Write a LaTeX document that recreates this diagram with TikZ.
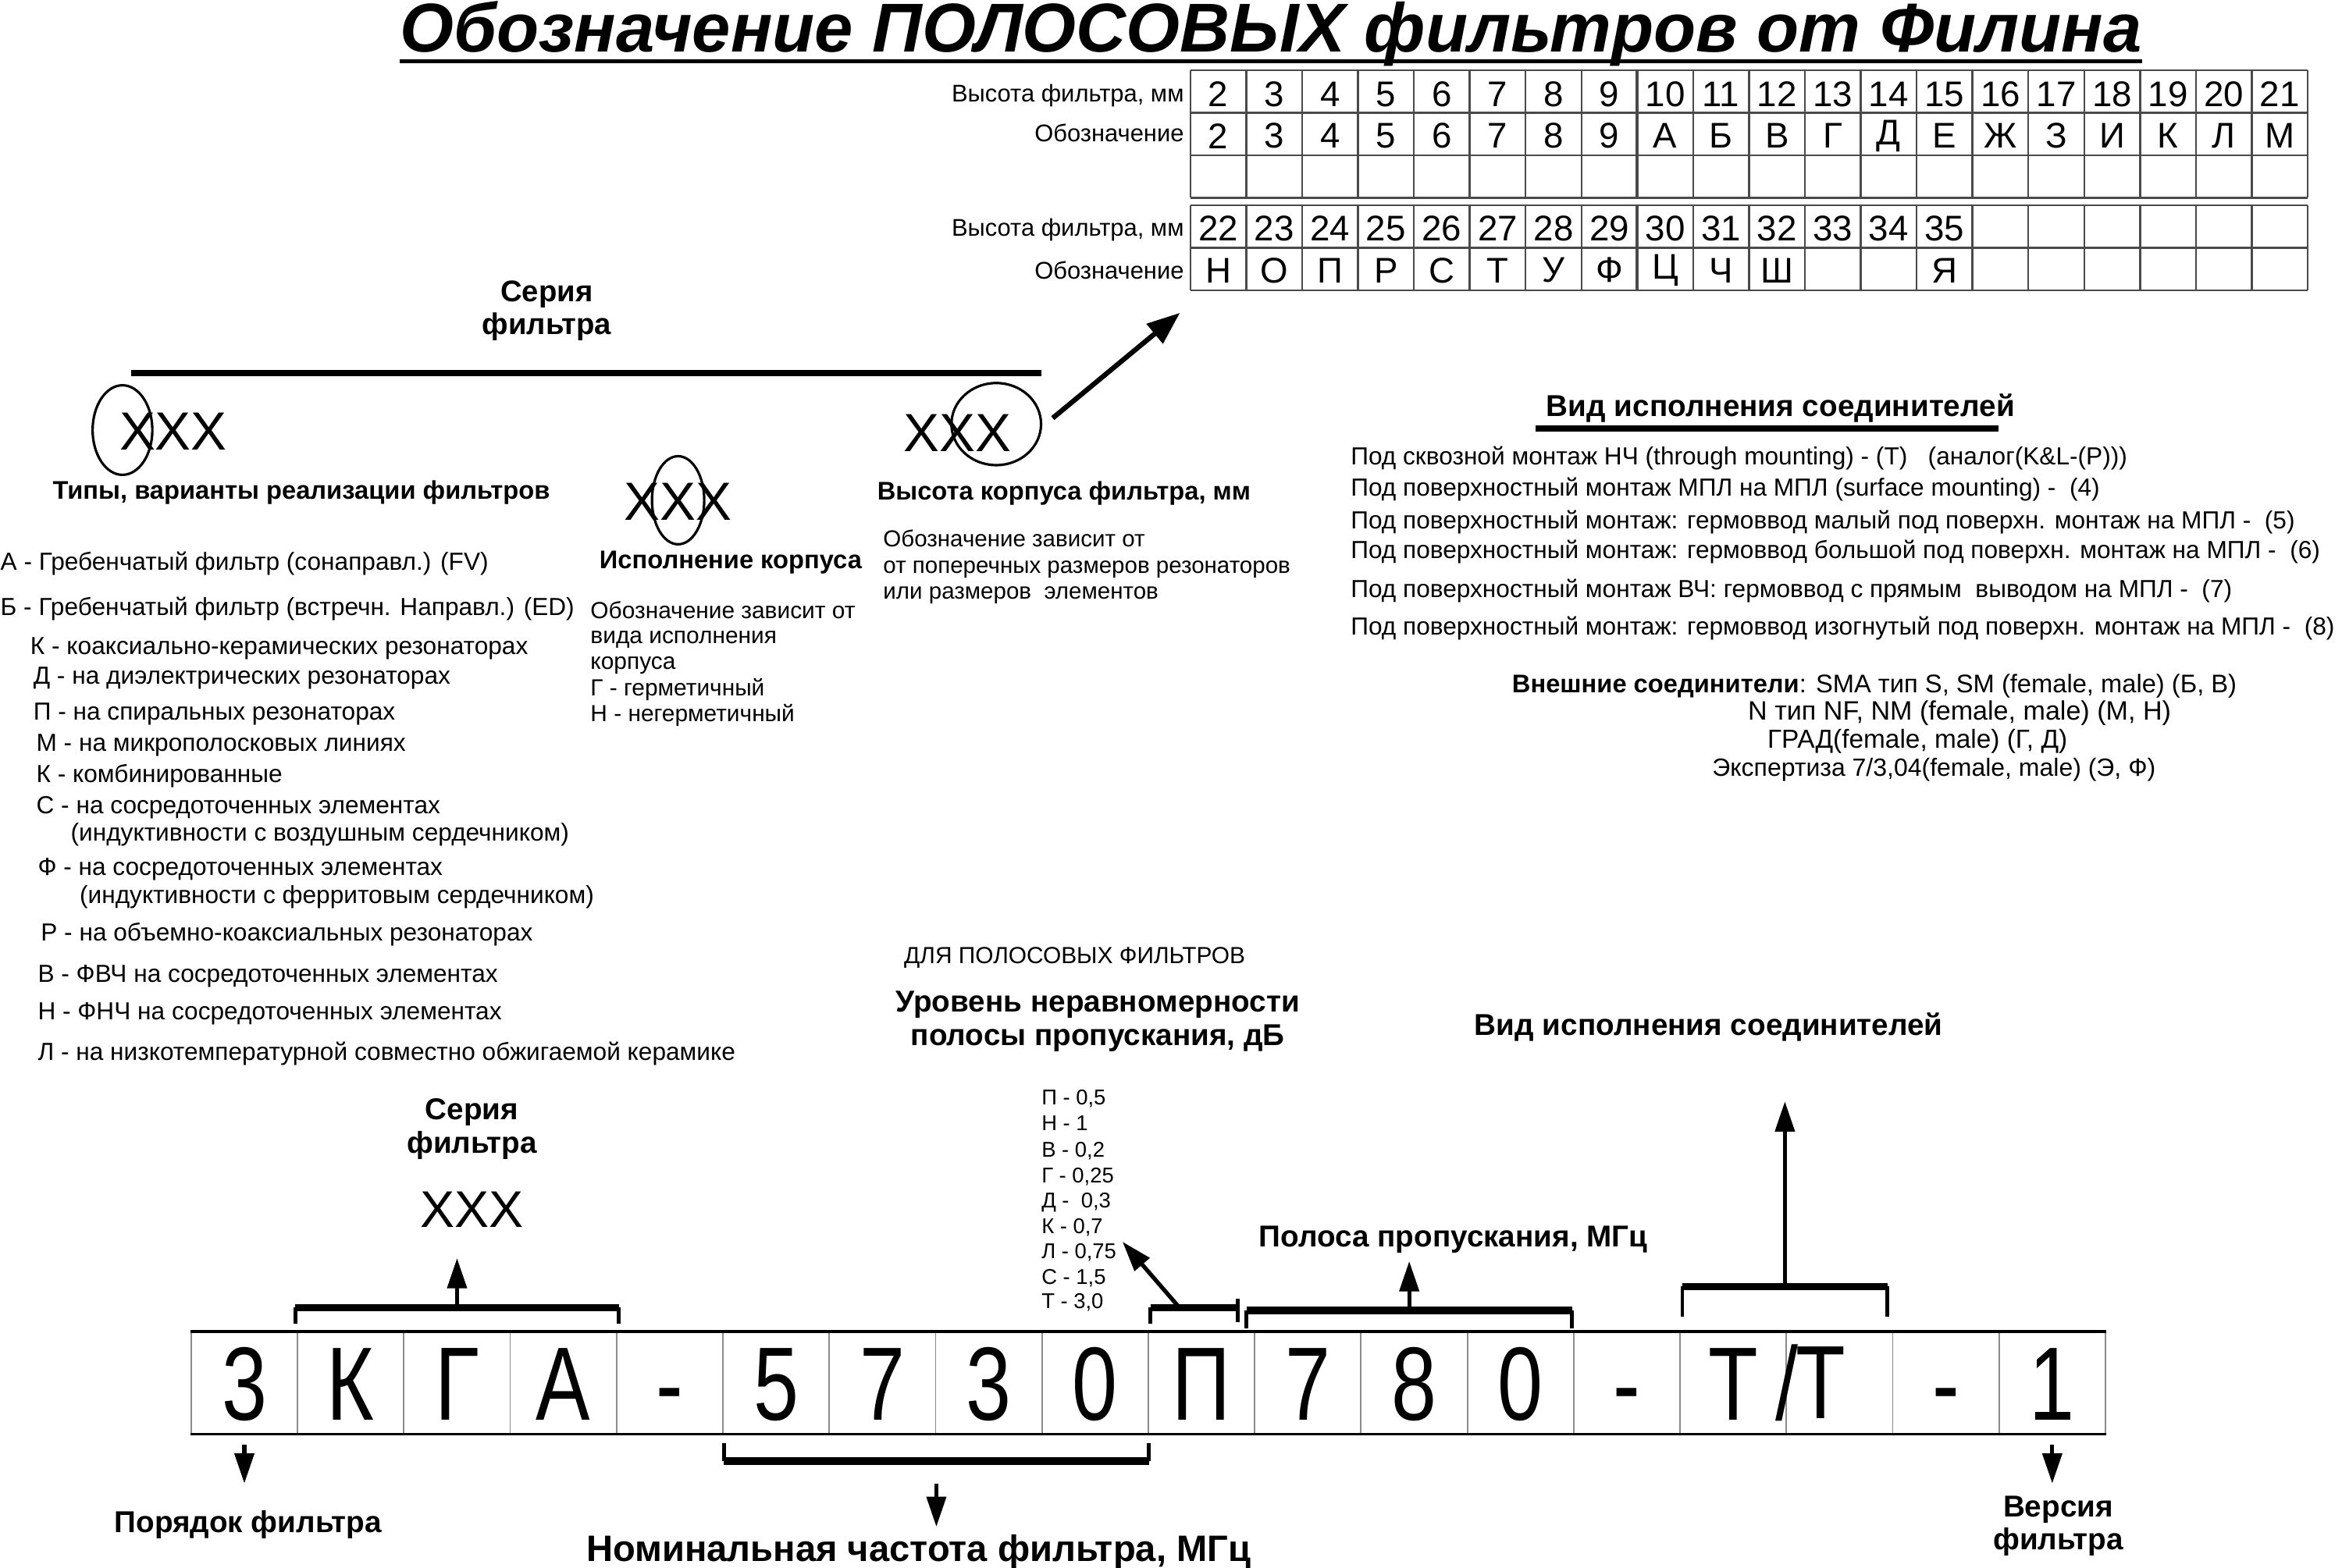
\documentclass[tikz,border=0pt]{standalone}
\usepackage{fontspec}
\setmainfont{Liberation Sans}
\newfontfamily\narrowfont[FakeStretch=0.78]{Liberation Sans}
\usepackage{tikz}
\usetikzlibrary{arrows.meta,positioning,calc,shapes.geometric}
\definecolor{gridline}{HTML}{4A4A4A}
\definecolor{celline}{HTML}{8C8C8C}
\newcommand{\fsz}[1]{\fontsize{#1}{#1}\selectfont}
\def\pxu{0.5443pt}

\begin{document}
\begin{tikzpicture}[
  x=0.019133cm, y=-0.019133cm,
  txt/.style={anchor=base west, inner sep=0pt, font=\fsz{9}},
  lbl/.style={anchor=base east, inner sep=0pt, font=\fsz{8.8}},
  tcell/.style={inner sep=0pt, font=\fsz{13}},
  hd/.style={anchor=base west, inner sep=0pt, font=\bfseries\fsz{9.3}},
  bighd/.style={inner sep=0pt, align=center, font=\bfseries\fontsize{11}{12}\selectfont},
  xxx/.style={inner sep=0pt, font=\fsz{19.6}},
  oval/.style={draw, ellipse, line width=0.9pt, inner sep=0pt},
  cell/.style={draw=celline, line width=0.5pt, minimum width=71.2*\pxu, minimum height=68*\pxu, inner sep=0pt,
    text height=50*\pxu, text depth=0pt, font=\narrowfont\fsz{38}},
  tgrid/.style={draw=gridline, line width=0.7pt},
  arr/.style={-{Triangle[length=11pt,width=7pt]}, line width=1.5pt},
  bar/.style={line width=2.6pt},
  tick/.style={line width=1.4pt}
]
  \fill[white] (0,0) rectangle (1568,1050);
  \useasboundingbox (0,0) rectangle (1568,1050);

  % title
  \node[inner sep=0pt, anchor=base, font=\bfseries\itshape\fsz{25.2}] (title) at (851,35) {Обозначение ПОЛОСОВЫХ фильтров от Филина};
  \draw[line width=1.3pt] ($(title.base west)+(0,6)$) -- ($(title.base east)+(0,6)$);

  % height tables
  \foreach \i in {0,...,20} {
    \draw[tgrid] ({797+37.4*\i},47) -- ({797+37.4*\i},132.5);
    \draw[tgrid] ({797+37.4*\i},137.5) -- ({797+37.4*\i},194.5);
  }
  \foreach \yy in {47,75.5,104,132.5,137.5,166,194.5}
    \draw[tgrid] (797,\yy) -- (1545,\yy);
  \draw[tgrid, line width=1.1pt] ({797+37.4*8},47) -- ({797+37.4*8},132.5);
  \draw[tgrid, line width=1.1pt] ({797+37.4*8},137.5) -- ({797+37.4*8},194.5);

  \foreach \v [count=\i] in {2,...,21}
    \node[tcell] (ha\i) at ({797+37.4*(\i-0.5)},63) {\v};
  \foreach \v [count=\i] in {2,3,4,5,6,7,8,9,А,Б,В,Г,Д,Е,Ж,З,И,К,Л,М}
    \node[tcell] (da\i) at ({797+37.4*(\i-0.5)},91) {\v};
  \foreach \v [count=\i] in {22,...,35}
    \node[tcell] (hb\i) at ({797+37.4*(\i-0.5)},153) {\v};
  \foreach \v [count=\i] in {Н,О,П,Р,С,Т,У,Ф,Ц,Ч,Ш,{},{},Я}
    \node[tcell] (db\i) at ({797+37.4*(\i-0.5)},181) {\v};

  \node[lbl] (lha) at (793,68) {Высота фильтра, мм};
  \node[lbl] (lda) at (793,95) {Обозначение};
  \node[lbl] (lhb) at (793,158) {Высота фильтра, мм};
  \node[lbl] (ldb) at (793,187) {Обозначение};
  \coordinate (tblB) at (797,194.5);

  % series block
  \node[bighd, font=\bfseries\fontsize{10.9}{12}\selectfont] (serA) at (366,208) {Серия\\фильтра};
  \draw[line width=2.2pt] (88,250) -- (697,250);

  \node[xxx] (xxxA) at (116,289) {XXX};
  \node[oval, minimum width=40*\pxu, minimum height=60*\pxu] (ovA) at (82,288) {};
  \node[xxx] (xxxM) at (454,336) {XXX};
  \node[oval, minimum width=35*\pxu, minimum height=59*\pxu] (ovM) at (454,335) {};
  \node[xxx] (xxxC) at (641,290) {XXX};
  \node[oval, minimum width=60*\pxu, minimum height=55*\pxu] (ovC) at (667,284) {};

  \coordinate (tipT) at ($(tblB)+(-7,15)$);
  \draw[-{Triangle[length=12pt,width=9pt]}, line width=1.8pt] ($(ovC.east)+(7,-4)$) -- (tipT);

  \node[hd] (typA) at (35,334) {Типы, варианты реализации фильтров};
  \node[hd] (ispA) at (401,381) {Исполнение корпуса};
  \node[hd] (hgtA) at (587,335) {Высота корпуса фильтра, мм};

  \foreach \xx/\yy/\tx [count=\i] in {
      0/382/{А - Гребенчатый фильтр (сонаправл.) (FV)},
      0/412/{Б - Гребенчатый фильтр (встречн. Направл.) (ED)},
      20/438/{К - коаксиально-керамических резонаторах},
      22/458/{Д - на диэлектрических резонаторах},
      22/482/{П - на спиральных резонаторах},
      24/503/{М - на микрополосковых линиях},
      24/524/{К - комбинированные},
      24/545/{С - на сосредоточенных элементах},
      47/563/{(индуктивности с воздушным сердечником)},
      25/586/{Ф - на сосредоточенных элементах},
      53/605/{(индуктивности с ферритовым сердечником)},
      27/630/{Р - на объемно-коаксиальных резонаторах},
      25/658/{В - ФВЧ на сосредоточенных элементах},
      25/683/{Н - ФНЧ на сосредоточенных элементах},
      25/710/{Л - на низкотемпературной совместно обжигаемой керамике}}
    \node[txt] (typ\i) at (\xx,\yy) {\tx};

  \foreach \yy/\tx [count=\i] in {414/{Обозначение зависит от}, 431/{вида исполнения},
      448/{корпуса}, 466/{Г - герметичный}, 483/{Н - негерметичный}}
    \node[txt, font=\fsz{8.5}] (isp\i) at (395,\yy) {\tx};

  \foreach \yy/\tx [count=\i] in {366/{Обозначение зависит от},
      384/{от поперечных размеров резонаторов}, 401/{или размеров\ \ элементов}}
    \node[txt, font=\fsz{8.4}] (hgt\i) at (591,\yy) {\tx};

  % connectors block
  \node[hd, font=\bfseries\fsz{11}] (conA) at (1035,279) {Вид исполнения соединителей};
  \draw[line width=2.2pt] (1028,287) -- (1338,287);

  \foreach \yy/\tx [count=\i] in {
      311/{Под сквозной монтаж НЧ (through mounting) - (Т)\ \ \ (аналог(K\&L-(P)))},
      332/{Под поверхностный монтаж МПЛ на МПЛ (surface mounting) -\ \ (4)},
      354/{Под поверхностный монтаж: гермоввод малый под поверхн. монтаж на МПЛ -\ \ (5)},
      374/{Под поверхностный монтаж: гермоввод большой под поверхн. монтаж на МПЛ -\ \ (6)},
      400/{Под поверхностный монтаж ВЧ: гермоввод с прямым\ \ выводом на МПЛ -\ \ (7)},
      425/{Под поверхностный монтаж: гермоввод изогнутый под поверхн. монтаж на МПЛ -\ \ (8)}}
    \node[txt] (con\i) at (904,\yy) {\tx};

  \node[txt, font=\fsz{9.3}] (ext1) at (1012,464) {\textbf{Внешние соединители}: SMA тип S, SM (female, male) (Б, В)};
  \node[txt, font=\fsz{9.7}] (ext2) at (1170,482) {N тип NF, NM (female, male) (М, Н)};
  \node[txt, font=\fsz{9.5}] (ext3) at (1183,501) {ГРАД(female, male) (Г, Д)};
  \node[txt, font=\fsz{9.1}] (ext4) at (1146,520) {Экспертиза 7/3,04(female, male) (Э, Ф)};

  % lower headings
  \node[txt, font=\fsz{8.5}] (forBP) at (605,645) {ДЛЯ ПОЛОСОВЫХ ФИЛЬТРОВ};
  \node[bighd] (ripH) at (735,684) {Уровень неравномерности\\полосы пропускания, дБ};
  \node[bighd] (conH) at (1144,688) {Вид исполнения соединителей};
  \node[bighd] (serB) at (316,756) {Серия\\фильтра};
  \node[xxx, font=\fsz{18.8}] (xxxB) at (316,810) {XXX};
  \node[bighd] (bandH) at (973,830) {Полоса пропускания, МГц};

  \foreach \yy/\tx [count=\i] in {740/{П - 0,5}, 757/{Н - 1}, 775/{В - 0,2}, 792/{Г - 0,25},
      809/{Д -\ \ 0,3}, 826/{К - 0,7}, 843/{Л - 0,75}, 860/{С - 1,5}, 876/{Т - 3,0}}
    \node[txt, font=\fsz{7.8}] (rip\i) at (697,\yy) {\tx};

  % code cells
  \foreach \ch [count=\i] in {3,К,Г,А,-,5,7,3,0,П,7,8,0,-,Т,{},-,1}
    \node[cell] (c\i) at ({128+71.2*(\i-0.5)},926) {\ch};
  \node[inner sep=0pt, font=\narrowfont\fsz{38}] (slash) at (c15.east) {/};
  \node[inner sep=0pt, font=\narrowfont\fsz{38}] (tt) at (1219,926) {Т};
  \draw[line width=1.2pt] (c1.north west) -- (c18.north east);
  \draw[line width=0.9pt] (c1.south west) -- (c18.south east);

  % bracket over series
  \coordinate (kL) at ($(c2.north west)+(-1,-16)$);
  \coordinate (kR) at ($(c4.north east)+(1,-16)$);
  \draw[tick] (kL) -- ++(0,11);
  \draw[tick] (kR) -- ++(0,11);
  \draw[bar] (kL) -- (kR);
  \coordinate (kM) at ($(kL)!0.5!(kR)$);
  \coordinate (kTip) at ($(kM)+(0,-33)$);
  \draw[arr] (kM) -- (kTip);

  % bracket over ripple letter
  \coordinate (pL) at ($(c10.north west)+(2,-16)$);
  \coordinate (pR) at ($(c10.north east)+(-12,-16)$);
  \draw[tick] (pL) -- ++(0,11);
  \draw[tick] ($(pR)+(0,-6)$) -- ++(0,16);
  \draw[bar] (pL) -- (pR);
  \coordinate (pM) at ($(pL)!0.33!(pR)$);
  \coordinate (pTip) at ($(pM)+(-38,-44)$);
  \draw[arr] (pM) -- (pTip);

  % bracket over band
  \coordinate (bL) at ($(c11.north west)+(-5,-14)$);
  \coordinate (bR) at ($(c13.north east)+(-1.6,-14)$);
  \draw[tick] (bL) -- ++(0,12);
  \draw[tick] (bR) -- ++(0,12);
  \draw[bar] (bL) -- (bR);
  \coordinate (bM) at ($(bL)!0.5!(bR)$);
  \coordinate (bTip) at ($(bM)+(0,-33)$);
  \draw[arr] (bM) -- (bTip);

  % bracket over connectors
  \coordinate (tL) at ($(c15.north west)+(2,-30)$);
  \coordinate (tR) at ($(c16.north east)+(-4,-30)$);
  \draw[tick] (tL) -- ++(0,20);
  \draw[tick] (tR) -- ++(0,20);
  \draw[bar] (tL) -- (tR);
  \coordinate (tM) at ($(tL)!0.5!(tR)$);
  \coordinate (tTip) at ($(tM)+(0,-124)$);
  \draw[arr] (tM) -- (tTip);

  % bracket under frequency
  \coordinate (fL) at ($(c6.south west)+(1,18)$);
  \coordinate (fR) at ($(c9.south east)+(0,18)$);
  \draw[tick] (fL) -- ++(0,-12);
  \draw[tick] (fR) -- ++(0,-12);
  \draw[bar] (fL) -- (fR);
  \coordinate (fM) at ($(fL)!0.5!(fR)+(0,15)$);
  \coordinate (fTip) at ($(fM)+(0,29)$);
  \draw[arr] (fM) -- (fTip);

  \coordinate (oTip) at ($(c1.south)+(0,33)$);
  \draw[arr] ($(c1.south)+(0,7)$) -- (oTip);
  \coordinate (vTip) at ($(c18.south)+(0,33)$);
  \draw[arr] ($(c18.south)+(0,7)$) -- (vTip);

  \node[bighd] (ordH) at (166,1021) {Порядок фильтра};
  \node[bighd, font=\bfseries\fsz{13.4}] (freqH) at (615,1039) {Номинальная частота фильтра, МГц};
  \node[bighd] (verH) at (1378,1022) {Версия\\фильтра};
\end{tikzpicture}
\end{document}
